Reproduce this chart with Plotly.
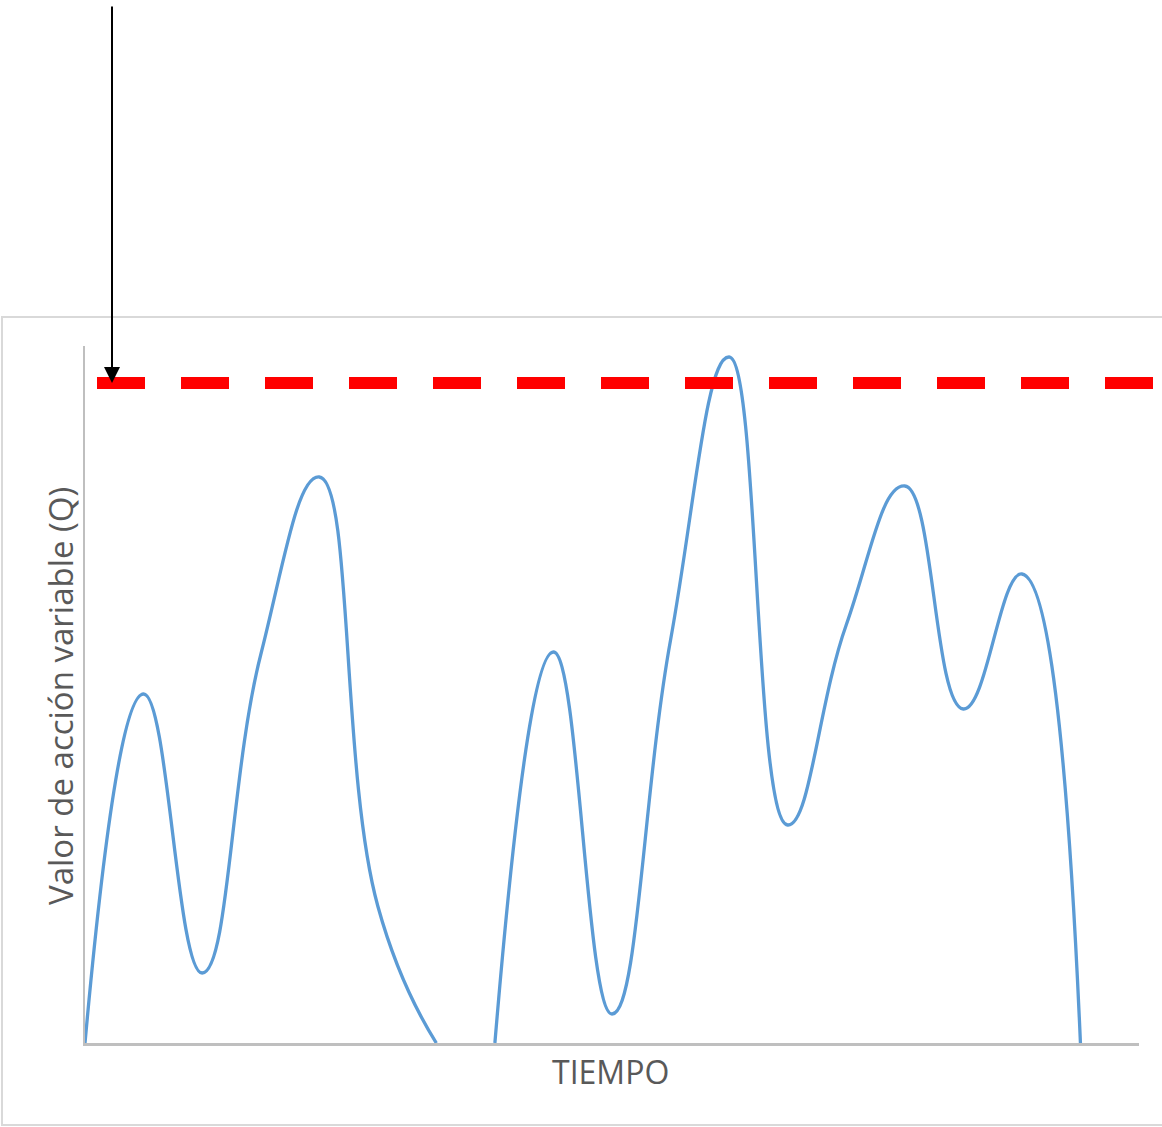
import plotly.graph_objects as go

# Data (arbitrary units)
time_idx = list(range(18))
q_values = [0, 349, 70, 388, 566, 137, 0, 0, 391, 29, 403, 686, 218, 418, 557, 334, 469, 0]
THRESHOLD = 660
X_MAX = 18
Y_MAX = 697
BREAK = 7  # the stretch at zero between index 6 and 7 lies on the axis

W, H = 1162, 1127
L, R, T, B = 85, 23, 346, 84
pw = W - L - R
ph = H - T - B

def px_x(p):
    return (p - L) / pw

def px_y(p):
    return (H - B - p) / ph

fig = go.Figure()
for xs, ys in [(time_idx[:BREAK], q_values[:BREAK]), (time_idx[BREAK:], q_values[BREAK:])]:
    fig.add_trace(go.Scatter(
        x=xs, y=ys, mode="lines",
        line=dict(color="#5B9BD5", width=3.3, shape="spline", smoothing=1.3),
        showlegend=False, hoverinfo="skip",
    ))

shapes = [
    # outer chart border
    dict(type="rect", xref="paper", yref="paper",
         x0=px_x(2), x1=px_x(1175), y0=px_y(1125), y1=px_y(317),
         line=dict(color="#D9D9D9", width=2), fillcolor="rgba(0,0,0,0)", layer="below"),
    # threshold dashed line
    dict(type="line", xref="paper", yref="y",
         x0=px_x(97), x1=px_x(1153), y0=THRESHOLD, y1=THRESHOLD,
         line=dict(color="#FF0000", width=12, dash="48px,36px")),
]

annotations = [
    dict(x=px_x(112), y=THRESHOLD, xref="paper", yref="y",
         ax=0, ay=-378, axref="pixel", ayref="pixel",
         text="", showarrow=True, arrowhead=2, arrowsize=1.6, arrowwidth=2,
         arrowcolor="#000000", standoff=0),
    dict(x=px_x(610), y=px_y(1071), xref="paper", yref="paper",
         text="TIEMPO", showarrow=False, xanchor="center", yanchor="middle",
         font=dict(family="Open Sans", size=32, color="#595959")),
    dict(x=px_x(60), y=px_y(696), xref="paper", yref="paper",
         text="Valor de acción variable (Q)", showarrow=False, textangle=-90,
         xanchor="center", yanchor="middle",
         font=dict(family="Open Sans", size=33, color="#595959")),
]

fig.update_layout(
    width=W, height=H,
    margin=dict(l=L, r=R, t=T, b=B),
    paper_bgcolor="white", plot_bgcolor="white",
    shapes=shapes, annotations=annotations,
    xaxis=dict(range=[0, X_MAX], showgrid=False, zeroline=False, showticklabels=False,
               ticks="", showline=True, linecolor="#BFBFBF", linewidth=3, fixedrange=True),
    yaxis=dict(range=[0, Y_MAX], showgrid=False, zeroline=False, showticklabels=False,
               ticks="", showline=True, linecolor="#BFBFBF", linewidth=2, fixedrange=True),
)

fig.write_html("out.html", config={"displayModeBar": False},
               post_script="document.body.style.margin='0';document.body.style.padding='0';")
